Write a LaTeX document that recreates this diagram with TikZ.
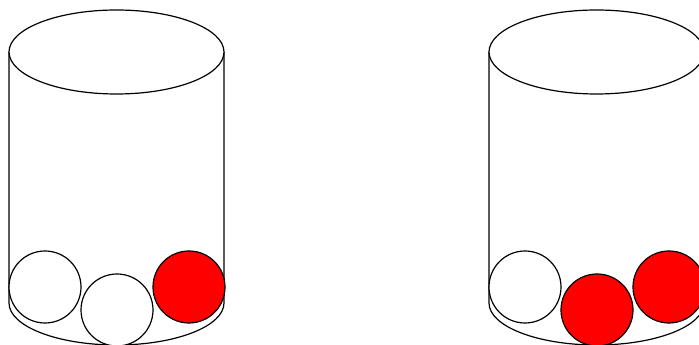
\documentclass[tikz,border=0pt]{standalone}
\begin{document}
\begin{tikzpicture}[x=1pt,y=1pt,
  outline/.style={draw=black,line width=1.2pt},
  ball/.style={circle,outline,minimum size=72pt,inner sep=0pt},
  whiteball/.style={ball,fill=white},
  redball/.style={ball,fill=red}]
\useasboundingbox (0,0) rectangle (699,345);
\clip (0,0) rectangle (699,345);
\fill[white] (0,0) rectangle (699,345);
% left cylinder
\draw[outline,fill=white] (9,293) -- (9,42) arc[start angle=180,end angle=360,x radius=107.5,y radius=42] -- (224,293);
\draw[outline,fill=white] (116.5,293) ellipse[x radius=107.5,y radius=42];
% right cylinder
\draw[outline,fill=white] (489,293) -- (489,42) arc[start angle=180,end angle=360,x radius=107.5,y radius=42] -- (704,293);
\draw[outline,fill=white] (596.5,293) ellipse[x radius=107.5,y radius=42];
% balls
\node[whiteball] (l1) at (45,58) {};
\node[whiteball] (l2) at (117,35) {};
\node[redball] (l3) at (189,58) {};
\node[whiteball] (r1) at (525,58) {};
\node[redball] (r2) at (597,35) {};
\node[redball] (r3) at (669,58) {};
\end{tikzpicture}
\end{document}
